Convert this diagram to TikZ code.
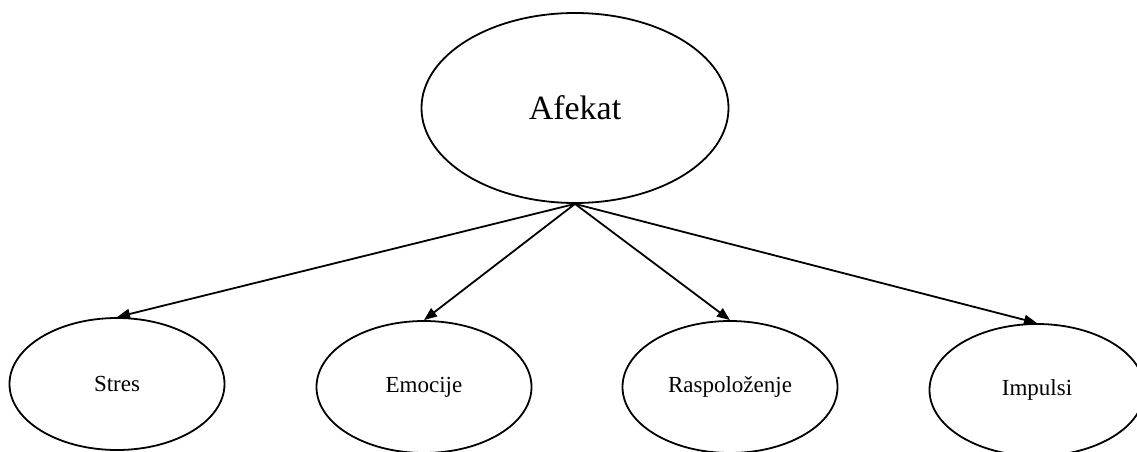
\documentclass[tikz,border=0pt]{standalone}
\usepackage{fontspec}
\setmainfont{Liberation Serif}
\usetikzlibrary{shapes.geometric,arrows.meta}
\begin{document}
\begin{tikzpicture}[x=1pt,y=1pt,
  ell/.style={draw=black,line width=1.8pt,ellipse,inner sep=0pt,minimum width=215pt,minimum height=132pt,font=\fontsize{23}{27}\selectfont},
  bigell/.style={ell,minimum width=307pt,minimum height=190pt,font=\fontsize{34}{40}\selectfont},
  link/.style={line width=1.8pt,-{Triangle[length=13pt,width=10pt]}}]
\useasboundingbox (0,0) rectangle (1137,-452);
\node[bigell] (afekat) at (575,-108) {Afekat};
\node[ell] (stres) at (117,-384) {Stres};
\node[ell] (emocije) at (424,-387) {Emocije};
\node[ell] (raspolozenje) at (730,-387) {Raspoloženje};
\node[ell] (impulsi) at (1037,-390) {Impulsi};
\draw[link] (afekat.south) -- (stres.north);
\draw[link] (afekat.south) -- (emocije.north);
\draw[link] (afekat.south) -- (raspolozenje.north);
\draw[link] (afekat.south) -- (impulsi.north);
\end{tikzpicture}
\end{document}
